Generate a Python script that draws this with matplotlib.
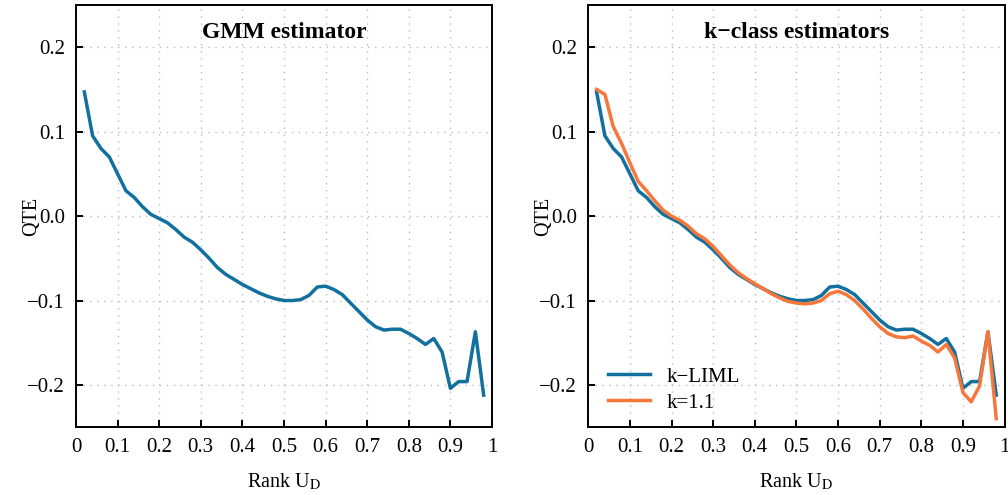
import numpy as np
import matplotlib
matplotlib.use("Agg")
import matplotlib.pyplot as plt

# quantile ranks
rank = [0.02, 0.04, 0.06, 0.08, 0.10, 0.12, 0.14, 0.16, 0.18, 0.20,
        0.22, 0.24, 0.26, 0.28, 0.30, 0.32, 0.34, 0.36, 0.38, 0.40,
        0.42, 0.44, 0.46, 0.48, 0.50, 0.52, 0.54, 0.56, 0.58, 0.60,
        0.62, 0.64, 0.66, 0.68, 0.70, 0.72, 0.74, 0.76, 0.78, 0.80,
        0.82, 0.84, 0.86, 0.88, 0.90, 0.92, 0.94, 0.96, 0.98]

# GMM estimator (also k-LIML)
qte_gmm = [0.147, 0.095, 0.080, 0.070, 0.050, 0.030, 0.022, 0.011, 0.002, -0.003,
           -0.008, -0.016, -0.025, -0.031, -0.040, -0.050, -0.061, -0.069, -0.075, -0.081,
           -0.086, -0.091, -0.095, -0.098, -0.100, -0.100, -0.099, -0.094, -0.084, -0.083,
           -0.087, -0.093, -0.103, -0.113, -0.123, -0.131, -0.135, -0.134, -0.134, -0.139,
           -0.145, -0.152, -0.145, -0.161, -0.204, -0.196, -0.196, -0.137, -0.212]

qte_liml = list(qte_gmm)

# k = 1.1
qte_k11 = [0.150, 0.144, 0.106, 0.086, 0.063, 0.041, 0.030, 0.018, 0.007, 0.000,
           -0.005, -0.012, -0.021, -0.027, -0.036, -0.047, -0.058, -0.067, -0.074, -0.080,
           -0.086, -0.092, -0.097, -0.101, -0.103, -0.104, -0.103, -0.100, -0.092, -0.089,
           -0.093, -0.100, -0.110, -0.121, -0.131, -0.139, -0.143, -0.144, -0.142, -0.148,
           -0.153, -0.161, -0.152, -0.168, -0.209, -0.220, -0.201, -0.137, -0.240]

xticks = [0, 0.1, 0.2, 0.3, 0.4, 0.5, 0.6, 0.7, 0.8, 0.9, 1]
xlabels = ["0", "0.1", "0.2", "0.3", "0.4", "0.5", "0.6", "0.7", "0.8", "0.9", "1"]
yticks = [-0.2, -0.1, 0.0, 0.1, 0.2]
ylabels = ["\u22120.2", "\u22120.1", "0.0", "0.1", "0.2"]

BLUE = "#12709e"
ORANGE = "#f7773b"

plt.rcParams["font.family"] = ["Liberation Serif", "DejaVu Serif"]
plt.rcParams["mathtext.fontset"] = "stix"


def style_axes(ax, title):
    ax.set_xlim(0, 1)
    ax.set_ylim(-0.25, 0.25)
    ax.set_xticks(xticks)
    ax.set_xticklabels(xlabels)
    ax.set_yticks(yticks)
    ax.set_yticklabels(ylabels)
    ax.tick_params(direction="in", length=5, width=1.4, labelsize=15,
                   top=False, right=False, pad=8)
    ax.grid(True, linestyle=(0, (1, 4)), color="#bbbbbb", linewidth=1.0)
    for s in ax.spines.values():
        s.set_linewidth(1.4)
    ax.set_xlabel("Rank U$_\\mathrm{D}$", fontsize=14.5, labelpad=10)
    ax.set_ylabel("QTE", fontsize=14.5, labelpad=-10)
    ax.text(0.5, 0.935, title, transform=ax.transAxes, ha="center", va="center",
            fontsize=17, fontweight="bold")


fig = plt.figure(figsize=(10.08, 4.95), dpi=100)
ax1 = fig.add_axes([0.0754, 0.137, 0.4127, 0.853])
ax2 = fig.add_axes([0.5836, 0.137, 0.4130, 0.853])

ax1.plot(rank, qte_gmm, color=BLUE, linewidth=2.5)
style_axes(ax1, "GMM estimator")

ax2.plot(rank, qte_liml, color=BLUE, linewidth=2.5, label="k\u2212LIML")
ax2.plot(rank, qte_k11, color=ORANGE, linewidth=2.5, label="k=1.1")
style_axes(ax2, "k\u2212class estimators")
ax2.legend(loc="lower left", frameon=False, fontsize=15, handlelength=2.0,
           handletextpad=0.8, borderaxespad=0.3, labelspacing=0.3,
           bbox_to_anchor=(0.012, 0.0))

fig.savefig("out.png", dpi=100)
